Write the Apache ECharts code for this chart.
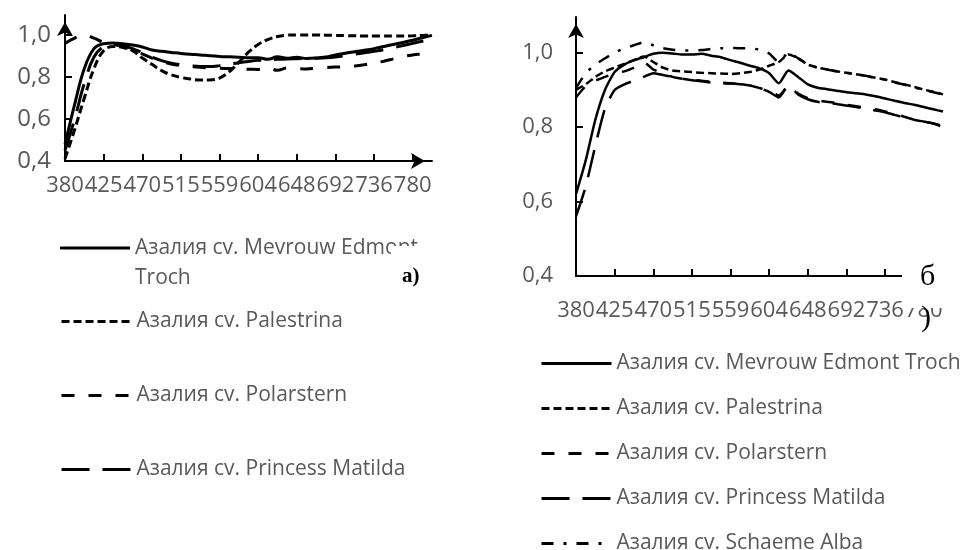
<!DOCTYPE html>
<html><head><meta charset="utf-8">
<script src="https://cdn.jsdelivr.net/npm/echarts@6/dist/echarts.min.js"></script>
<style>html,body{margin:0;padding:0;background:#fff}#c{width:965px;height:550px}</style>
</head><body><div id="c"></div>
<script>
// wavelengths (nm); every 4th one is labelled
const categories = ['380','391','402','414','425','436','447','459','470','481','492','504','515','526','537','548','559','570','581','593','604','615','626','637','648','659','670','681','692','703','714','725','736','747','758','769','780','791','802'];
const yTicks = [0.4, 0.6, 0.8, 1.0];
const nameMevrouw = 'Азалия cv. Mevrouw Edmont Troch';
const namePalestrina = 'Азалия cv. Palestrina';
const namePolarstern = 'Азалия cv. Polarstern';
const nameMatilda = 'Азалия cv. Princess Matilda';
const nameSchaeme = 'Азалия cv. Schaeme Alba';

// chart a)
const aMevrouw = [0.48,0.67,0.84,0.935,0.958,0.962,0.958,0.952,0.943,0.928,0.922,0.917,0.912,0.908,0.905,0.901,0.898,0.896,0.894,0.892,0.892,0.884,0.896,0.889,0.894,0.888,0.89,0.895,0.905,0.913,0.92,0.927,0.935,0.945,0.955,0.964,0.975,0.987,0.998];
const aPalestrina = [0.41,0.55,0.70,0.84,0.925,0.945,0.94,0.925,0.89,0.86,0.83,0.81,0.798,0.79,0.786,0.786,0.795,0.825,0.87,0.918,0.955,0.978,0.993,0.999,1.0,1.0,1.0,0.999,0.998,0.997,0.996,0.995,0.995,0.995,0.995,0.995,0.996,0.998,1.0];
const aPolarstern = [0.96,0.985,1.0,0.985,0.965,0.955,0.945,0.93,0.91,0.89,0.873,0.862,0.855,0.85,0.846,0.843,0.841,0.84,0.838,0.837,0.836,0.842,0.832,0.843,0.84,0.838,0.842,0.845,0.847,0.849,0.852,0.858,0.866,0.875,0.886,0.897,0.905,0.91,0.915];
const aMatilda = [0.45,0.6,0.77,0.895,0.945,0.955,0.948,0.935,0.915,0.895,0.878,0.866,0.858,0.853,0.85,0.85,0.854,0.861,0.868,0.874,0.879,0.882,0.884,0.886,0.887,0.888,0.889,0.891,0.895,0.901,0.908,0.915,0.922,0.93,0.94,0.95,0.96,0.97,0.978];

// chart б)
const bMevrouw = [0.62,0.71,0.82,0.9,0.948,0.968,0.98,0.988,0.997,1.0,0.998,0.995,0.995,0.997,0.992,0.988,0.98,0.973,0.965,0.958,0.945,0.918,0.952,0.935,0.915,0.906,0.902,0.898,0.894,0.891,0.888,0.883,0.877,0.871,0.865,0.86,0.854,0.848,0.842];
const bPalestrina = [0.9,0.915,0.935,0.95,0.96,0.97,0.98,0.99,0.975,0.96,0.952,0.95,0.948,0.946,0.945,0.944,0.943,0.945,0.948,0.955,0.965,0.975,0.995,0.985,0.968,0.96,0.955,0.95,0.946,0.942,0.938,0.933,0.928,0.921,0.915,0.908,0.901,0.895,0.888];
const bPolarstern = [0.88,0.91,0.925,0.935,0.945,0.95,0.96,0.975,0.955,0.945,0.935,0.93,0.927,0.925,0.922,0.92,0.918,0.915,0.912,0.905,0.898,0.885,0.91,0.89,0.878,0.872,0.868,0.865,0.86,0.856,0.852,0.848,0.842,0.836,0.828,0.82,0.815,0.81,0.803];
const bMatilda = [0.56,0.64,0.75,0.85,0.9,0.915,0.925,0.935,0.945,0.94,0.935,0.93,0.926,0.923,0.92,0.918,0.917,0.915,0.912,0.905,0.895,0.88,0.912,0.888,0.875,0.868,0.865,0.862,0.858,0.854,0.85,0.845,0.84,0.833,0.826,0.82,0.815,0.81,0.8];
const bSchaeme = [0.905,0.945,0.968,0.985,1.0,1.012,1.02,1.028,1.02,1.012,1.008,1.006,1.006,1.007,1.01,1.012,1.013,1.012,1.012,1.008,0.998,0.975,1.0,0.985,0.97,0.96,0.955,0.95,0.946,0.942,0.938,0.932,0.928,0.92,0.914,0.907,0.9,0.894,0.888];

const FONT = "'Open Sans', 'Noto Sans', sans-serif";
const GRAY = '#595959';
const dashes = {
  [nameMevrouw]: 'solid',
  [namePalestrina]: [8, 4],
  [namePolarstern]: [13, 14],
  [nameMatilda]: [28, 13],
  [nameSchaeme]: [12, 10, 3, 10]
};

function xAxisDef(gi, labelMargin) {
  return {
    gridIndex: gi, type: 'category', data: categories, boundaryGap: false,
    axisLine: {show: true, lineStyle: {color: '#000', width: 2}, symbol: ['none', 'arrow'], symbolSize: [12, 14], symbolOffset: [0, -7]},
    axisTick: {show: true, inside: true, interval: 3, length: 7, lineStyle: {color: '#000', width: 2}},
    axisLabel: {interval: 3, color: GRAY, fontFamily: FONT, fontSize: 22, margin: labelMargin},
    splitLine: {show: false}
  };
}
function yAxisDef(gi, maxV, labelMargin, fs) {
  return {
    gridIndex: gi, type: 'value', min: 0.4, max: maxV,
    axisLine: {show: true, lineStyle: {color: '#000', width: 2}, symbol: ['none', 'arrow'], symbolSize: [12, 14], symbolOffset: [0, -7]},
    axisTick: {show: true, inside: true, length: 7, customValues: yTicks, lineStyle: {color: '#000', width: 2}},
    axisLabel: {customValues: yTicks, color: GRAY, fontFamily: FONT, fontSize: fs, margin: labelMargin,
      formatter: v => v.toFixed(1).replace('.', ',')},
    splitLine: {show: false}
  };
}
function line(name, data, gi, w, smooth) {
  return {
    name: name, type: 'line', xAxisIndex: gi, yAxisIndex: gi, data: data,
    symbol: 'none', showSymbol: false, smooth: smooth,
    lineStyle: {color: '#000', width: w, type: dashes[name]},
    itemStyle: {color: '#000'}, emphasis: {disabled: true}
  };
}
const legendBase = {
  orient: 'vertical', padding: 0, itemWidth: 70, itemHeight: 24, selectedMode: false,
  textStyle: {color: GRAY, fontFamily: FONT, fontSize: 21},
  lineStyle: {width: 3}, itemStyle: {opacity: 0}
};

const chart = echarts.init(document.getElementById('c'), null, {renderer: 'canvas'});
chart.setOption({
  animation: false,
  backgroundColor: '#fff',
  grid: [
    {left: 65, top: 15, width: 367, height: 146},
    {left: 576, top: 17, width: 367, height: 259}
  ],
  xAxis: [xAxisDef(0, 14), xAxisDef(1, 24)],
  yAxis: [yAxisDef(0, 1.095, 14, 24), yAxisDef(1, 1.096, 23, 22)],
  legend: [
    Object.assign({}, legendBase, {left: 60, top: 233, height: 80, itemHeight: 33, itemStyle: {opacity: 1, color: '#000'},
      textStyle: {color: GRAY, fontFamily: FONT, fontSize: 21, lineHeight: 30},
      data: [{name: nameMevrouw, icon: 'path://M0,0L70,0L70,3L0,3Z M0,32.9L0.05,32.9L0.05,33Z'}],
      formatter: n => n.replace(' Troch', '\nTroch')}),
    Object.assign({}, legendBase, {left: 60, top: 311, height: 230, itemGap: 53, data: [namePalestrina, namePolarstern, nameMatilda]}),
    Object.assign({}, legendBase, {left: 540, top: 353, height: 230, itemGap: 24, data: [nameMevrouw, namePalestrina, namePolarstern, nameMatilda, nameSchaeme]})
  ],
  series: [
    line(nameMevrouw, aMevrouw, 0, 3, 0.4),
    line(namePalestrina, aPalestrina, 0, 3, 0.4),
    line(namePolarstern, aPolarstern, 0, 3, 0.4),
    line(nameMatilda, aMatilda, 0, 3, 0.4),
    line(nameMevrouw, bMevrouw, 1, 2.5, 0.2),
    line(namePalestrina, bPalestrina, 1, 2.5, 0.2),
    line(namePolarstern, bPolarstern, 1, 2.5, 0.2),
    line(nameMatilda, bMatilda, 1, 2.5, 0.2),
    line(nameSchaeme, bSchaeme, 1, 2.5, 0.2)
  ],
  graphic: [
    {type: 'rect', z: 100, shape: {x: 391, y: 246, width: 52, height: 50}, style: {fill: '#fff'}},
    {type: 'text', z: 101, x: 402, y: 266, style: {text: 'a)', font: 'bold 21px "Liberation Serif"', fill: '#000'}},
    {type: 'rect', z: 100, shape: {x: 902, y: 250, width: 63, height: 58}, style: {fill: '#fff'}},
    {type: 'text', z: 101, x: 920, y: 262, style: {text: 'б', font: '30px "Liberation Serif"', fill: '#000'}},
    {type: 'text', z: 101, x: 921, y: 303, style: {text: ')', font: '30px "Liberation Serif"', fill: '#000'}}
  ]
});
</script></body></html>
